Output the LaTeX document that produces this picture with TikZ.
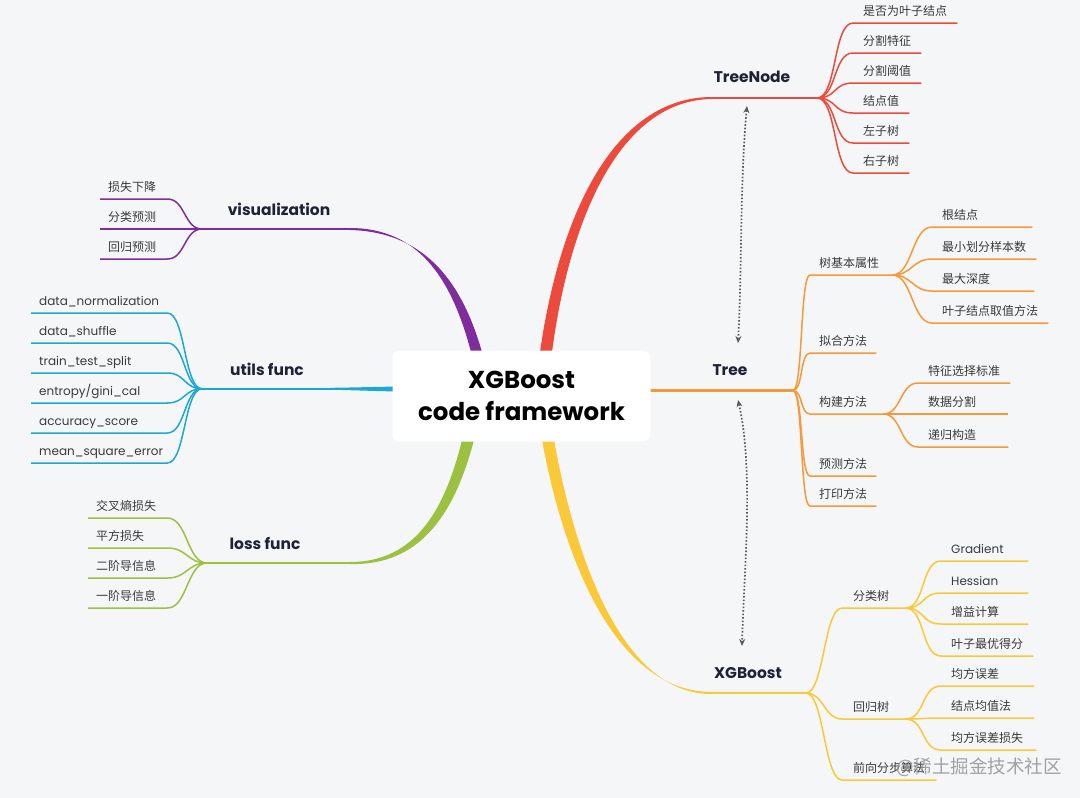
\documentclass[tikz,border=0pt]{standalone}
\usepackage{fontspec}
\setmainfont{Poppins}
\newfontfamily\cjk{Noto Sans CJK SC}
\usetikzlibrary{calc,arrows.meta}
\definecolor{bg}{HTML}{F5F6F8}
\definecolor{cred}{HTML}{EC4A3C}
\definecolor{corange}{HTML}{F5993A}
\definecolor{cyellow}{HTML}{FBC83A}
\definecolor{cpurple}{HTML}{7F2D9C}
\definecolor{ccyan}{HTML}{1BA8D2}
\definecolor{cgreen}{HTML}{9CC140}
\definecolor{txt}{HTML}{3A3A3A}
\definecolor{headc}{HTML}{1E2235}
\begin{document}
\begin{tikzpicture}[x=1pt,y=-1pt,
  leaf/.style={anchor=south west, inner xsep=10pt, inner ysep=4.5pt, text height=9pt, text depth=3pt, text=txt, align=left, font=\fontsize{12}{14}\selectfont\cjk},
  leafL/.style={leaf, inner xsep=8pt},
  latin/.style={font=\fontsize{12}{14}\selectfont},
  headlab/.style={font=\fontsize{15.5}{18}\selectfont\bfseries, text=headc, inner sep=0pt},
  sub/.style={line width=1.5pt, to path={.. controls ($(\tikztostart)+(#1,0)$) and ($(\tikztotarget)+(-#1,0)$) .. (\tikztotarget)}},
  dotarr/.style={draw=black!65, line width=1.7pt, dash pattern=on 1.6pt off 1.9pt, {Stealth[length=7pt,width=6pt]}-{Stealth[length=7pt,width=6pt]}}
]
\fill[bg] (0,0) rectangle (1080,798);
\useasboundingbox (0,0) rectangle (1080,798);

% branch points
\coordinate (B1) at (817,98);
\coordinate (B2) at (793,390.5);
\coordinate (B3) at (806,693);
\coordinate (B4) at (202,229);
\coordinate (B5) at (202,388.8);
\coordinate (B6) at (207,563);

% main branches
\fill[cred] (540,352) .. controls (560,212) and (615,97) .. (712,97) -- (712,99) .. controls (621,100) and (570,216) .. (552,352) -- cycle;
\draw[cred, line width=2pt] (711,98) -- (B1);
\fill[cpurple] (471,352) .. controls (453,284) and (422,228) .. (350,228) -- (350,230) .. controls (428,232) and (463,286) .. (482,352) -- cycle;
\draw[cpurple, line width=2pt] (351,229) -- (B4);
\fill[ccyan] (398,386.5) .. controls (370,387) and (350,387.6) .. (330,387.8) -- (330,389.8) .. controls (350,390) and (370,391) .. (398,391.5) -- cycle;
\draw[ccyan, line width=2pt] (331,388.8) -- (B5);
\draw[corange, line width=2.6pt] (645,390.5) -- (B2);
\fill[cgreen] (462,440) .. controls (446,505) and (418,562) .. (350,562) -- (350,564) .. controls (424,566) and (456,508) .. (474,440) -- cycle;
\draw[cgreen, line width=2pt] (351,563) -- (B6);
\fill[cyellow] (542,440) .. controls (564,560) and (616,692) .. (712,692) -- (712,694) .. controls (624,695) and (576,562) .. (554,440) -- cycle;
\draw[cyellow, line width=2pt] (711,693) -- (B3);

% root
\node[fill=white, rounded corners=7pt, minimum width=258pt, minimum height=91pt, align=center, text=black, font=\fontsize{24.5}{32}\selectfont\bfseries] (root) at (521.5,396) {XGBoost\\code framework};

% headings
\node[headlab] (hTN) at (752,77) {TreeNode};
\node[headlab] (hT) at (730,370) {Tree};
\node[headlab] (hX) at (748,673) {XGBoost};
\node[headlab] (hV) at (279,209) {visualization};
\node[headlab] (hU) at (267,369) {utils func};
\node[headlab] (hL) at (265,543) {loss func};

% TreeNode leaves
\node[leaf] (tn1) at (853,23) {是否为叶子结点};
\node[leaf] (tn2) at (853,53) {分割特征};
\node[leaf] (tn3) at (853,83) {分割阈值};
\node[leaf] (tn4) at (853,113) {结点值};
\node[leaf] (tn5) at (853,143) {左子树};
\node[leaf] (tn6) at (853,173) {右子树};
\foreach \n in {tn1,tn2,tn3,tn4,tn5,tn6}
  \draw[cred, sub=20] (B1) to (\n.south west) -- (\n.south east);

% Tree leaves
\node[leaf, inner xsep=9pt, text width=64pt] (t1) at (810,275) {树基本属性};
\node[leaf, inner xsep=9pt] (t2) at (810,353) {拟合方法};
\node[leaf, inner xsep=9pt, text width=55pt] (t3) at (810,414) {构建方法};
\node[leaf, inner xsep=9pt] (t4) at (810,476) {预测方法};
\node[leaf, inner xsep=9pt] (t5) at (810,506) {打印方法};
\foreach \n in {t1,t2,t3,t4,t5}
  \draw[corange, sub=10] (B2) to (\n.south west) -- (\n.south east);
\node[leaf, text width=80pt] (t11) at (932,227) {根结点};
\node[leaf] (t12) at (932,259) {最小划分样本数};
\node[leaf, text width=82pt] (t13) at (932,291) {最大深度};
\node[leaf] (t14) at (932,323) {叶子结点取值方法};
\foreach \n in {t11,t12,t13,t14}
  \draw[corange, sub=20] (t1.south east) to (\n.south west) -- (\n.south east);
\node[leaf] (t31) at (918,383) {特征选择标准};
\node[leaf, text width=70pt] (t32) at (918,414) {数据分割};
\node[leaf, text width=70pt] (t33) at (918,447) {递归构造};
\foreach \n in {t31,t32,t33}
  \draw[corange, sub=18] (t3.south east) to (\n.south west) -- (\n.south east);

% XGBoost leaves
\node[leaf, inner xsep=11pt, text width=41pt] (x1) at (842,608) {分类树};
\node[leaf, inner xsep=11pt, text width=41pt] (x2) at (842,719) {回归树};
\node[leaf, inner xsep=11pt] (x3) at (842,780) {前向分步算法};
\foreach \n in {x1,x2,x3}
  \draw[cyellow, sub=18] (B3) to (\n.south west) -- (\n.south east);
\node[leaf, latin, text width=67pt] (x11) at (941,561) {Gradient};
\node[leaf, latin, text width=67pt] (x12) at (941,593) {Hessian};
\node[leaf, text width=67pt] (x13) at (941,624) {增益计算};
\node[leaf, text width=72pt] (x14) at (941,656) {叶子最优得分};
\foreach \n in {x11,x12,x13,x14}
  \draw[cyellow, sub=20] (x1.south east) to (\n.south west) -- (\n.south east);
\node[leaf, text width=73pt] (x21) at (941,686) {均方误差};
\node[leaf, text width=73pt] (x22) at (941,718) {结点均值法};
\node[leaf, text width=75pt] (x23) at (941,750) {均方误差损失};
\foreach \n in {x21,x22,x23}
  \draw[cyellow, sub=20] (x2.south east) to (\n.south west) -- (\n.south east);

% visualization leaves
\node[leafL, text width=51pt] (v1) at (100,199) {损失下降};
\node[leafL, text width=51pt] (v2) at (100,229) {分类预测};
\node[leafL, text width=51pt] (v3) at (100,259) {回归预测};
\foreach \n in {v1,v2,v3}
  \draw[cpurple, sub=-18] (B4) to (\n.south east) -- (\n.south west);

% utils leaves
\node[leafL, latin, text width=120pt] (u1) at (31,313) {data\_normalization};
\node[leafL, latin, text width=120pt] (u2) at (31,343) {data\_shuffle};
\node[leafL, latin, text width=120pt] (u3) at (31,373) {train\_test\_split};
\node[leafL, latin, text width=120pt] (u4) at (31,403) {entropy/gini\_cal};
\node[leafL, latin, text width=120pt] (u5) at (31,433) {accuracy\_score};
\node[leafL, latin, text width=120pt] (u6) at (31,463) {mean\_square\_error};
\foreach \n in {u1,u2,u3,u4,u5,u6}
  \draw[ccyan, sub=-18] (B5) to (\n.south east) -- (\n.south west);

% loss leaves
\node[leafL, text width=63pt] (l1) at (88,518) {交叉熵损失};
\node[leafL, text width=63pt] (l2) at (88,548) {平方损失};
\node[leafL, text width=63pt] (l3) at (88,578) {二阶导信息};
\node[leafL, text width=63pt] (l4) at (88,608) {一阶导信息};
\foreach \n in {l1,l2,l3,l4}
  \draw[cgreen, sub=-20] (B6) to (\n.south east) -- (\n.south west);

% dotted relation arrows
\coordinate (a1) at (747,106);
\coordinate (a2) at (738,343);
\coordinate (a3) at (738,400);
\coordinate (a4) at (742,646);
\draw[dotarr] (a1) .. controls (740,180) and (742,270) .. (a2);
\draw[dotarr] (a3) .. controls (754,470) and (744,570) .. (a4);

% watermark
\node[text=black!45, opacity=0.8, font=\fontsize{18.5}{20}\selectfont\cjk, inner sep=0pt] (wm) at (979,767) {@稀土掘金技术社区};
\end{tikzpicture}
\end{document}
